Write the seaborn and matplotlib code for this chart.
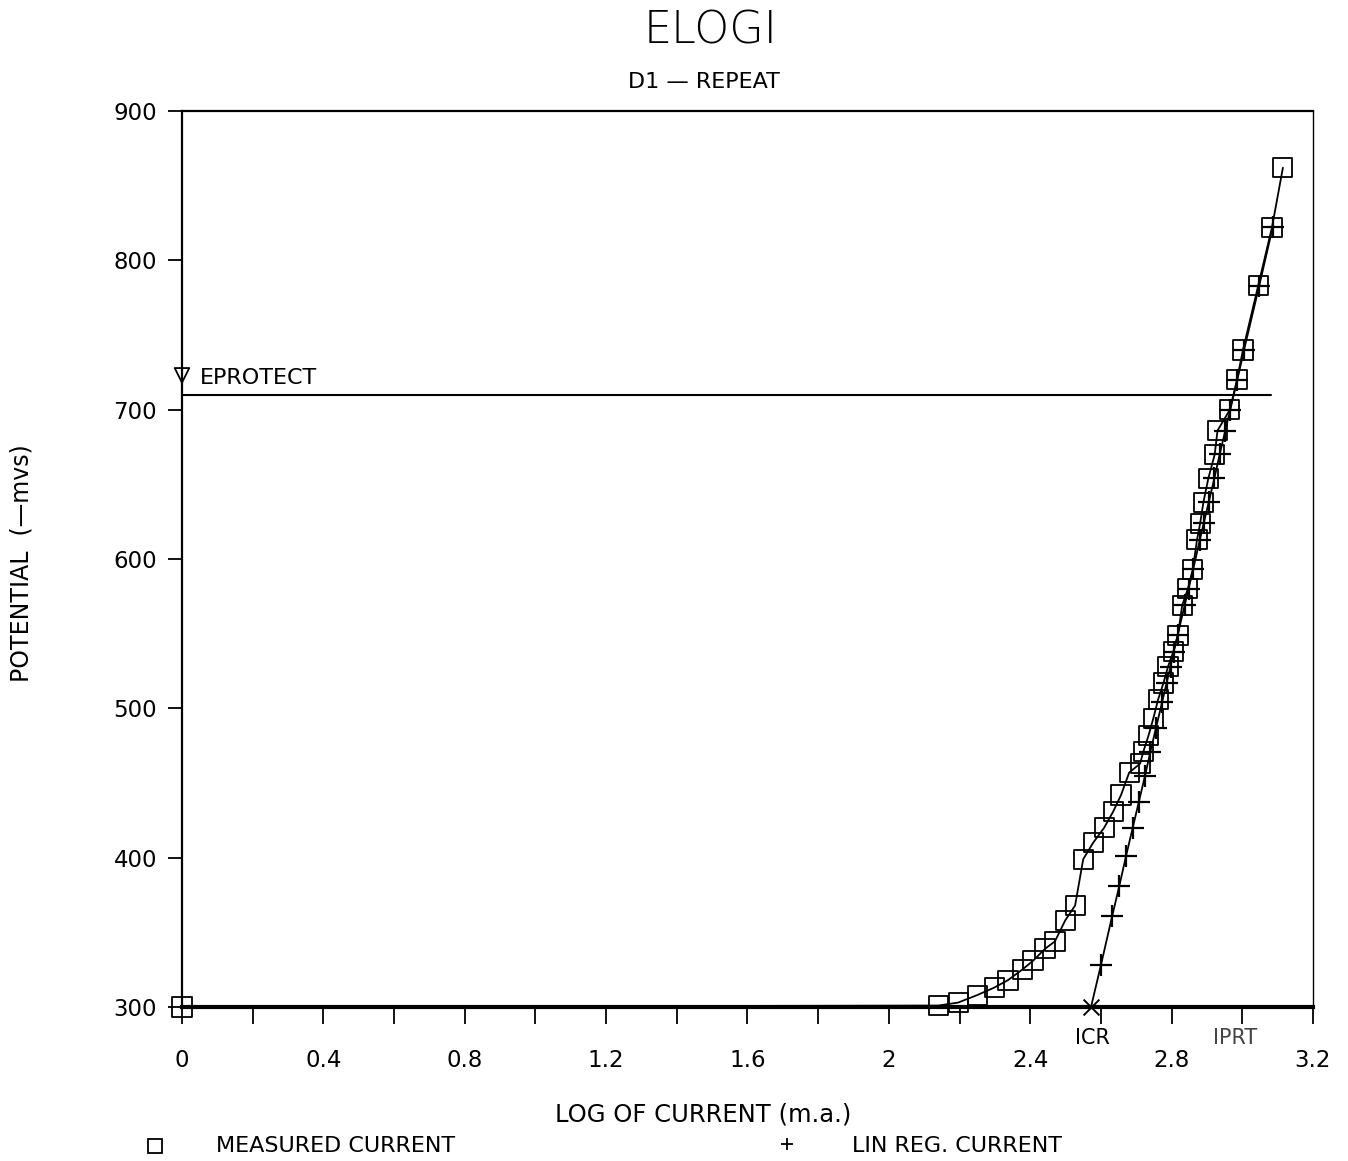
import matplotlib
matplotlib.use("Agg")
import matplotlib.pyplot as plt
import numpy as np
import seaborn as sns
from matplotlib.lines import Line2D

# measured current curve (log of current, potential in -mV)
meas_x = [0.0, 2.14, 2.196, 2.25, 2.298, 2.337, 2.377, 2.408, 2.442, 2.47,
          2.499, 2.527, 2.55, 2.578, 2.609, 2.635, 2.657, 2.68, 2.711, 2.72,
          2.735, 2.748, 2.762, 2.777, 2.79, 2.805, 2.818, 2.83, 2.846, 2.86,
          2.872, 2.881, 2.89, 2.904, 2.922, 2.93, 2.965, 2.985, 3.002, 3.045,
          3.084, 3.115]
meas_y = [300, 301, 303, 308, 313, 318, 325, 331, 339, 344,
          358, 368, 399, 410, 420, 431, 442, 457, 463, 471,
          482, 493, 506, 517, 528, 538, 549, 569, 580, 593,
          613, 624, 638, 654, 670, 686, 700, 720, 740, 783,
          822, 862]

# linear regression current
lin_x = [2.572, 2.600, 2.632, 2.652, 2.671, 2.690, 2.707, 2.725, 2.740, 2.756,
         2.773, 2.786, 2.797, 2.806, 2.817, 2.837, 2.848, 2.861, 2.880, 2.891,
         2.905, 2.921, 2.936, 2.952, 2.966, 2.986, 3.005, 3.048, 3.086]
lin_y = [300, 328, 361, 381, 401, 420, 437, 455, 471, 487,
         504, 517, 528, 538, 549, 569, 580, 593, 613, 624,
         638, 654, 670, 686, 700, 720, 740, 783, 822]

eprotect = 710
eprotect_end = 3.08
eprotect_mark = 723
icr_x = 2.575
iprt_x = 2.98

x_labels = ["0", "0.4", "0.8", "1.2", "1.6", "2", "2.4", "2.8", "3.2"]
y_major = [300, 400, 500, 600, 700, 800, 900]

sns.set_style("white")
plt.rcParams['font.family'] = ['DejaVu Sans']
plt.rcParams['text.color'] = 'black'
plt.rcParams['xtick.color'] = 'black'
plt.rcParams['ytick.color'] = 'black'

fig = plt.figure(figsize=(13.48, 11.61), dpi=100)
ax = fig.add_axes([0.135, 0.1326, 0.839, 0.7718])

# lines
sns.lineplot(x=meas_x, y=meas_y, sort=False, estimator=None, ax=ax,
             color='black', linewidth=1.3, zorder=3)
sns.lineplot(x=lin_x, y=lin_y, sort=False, estimator=None, ax=ax,
             color='black', linewidth=1.3, zorder=3)

# markers
sns.scatterplot(x=meas_x, y=meas_y, ax=ax, marker='s', s=190,
                facecolors='none', edgecolor='black', linewidth=1.3,
                clip_on=False, zorder=4)
sns.scatterplot(x=lin_x[1:], y=lin_y[1:], ax=ax, marker='+', s=230,
                color='black', linewidth=1.6, clip_on=False, zorder=4)
sns.scatterplot(x=lin_x[:1], y=lin_y[:1], ax=ax, marker='x', s=130,
                color='black', linewidth=1.4, clip_on=False, zorder=4)

# EPROTECT line
sns.lineplot(x=[0, eprotect_end], y=[eprotect, eprotect], ax=ax,
             color='black', linewidth=1.5, zorder=2)
sns.scatterplot(x=[0], y=[eprotect_mark], ax=ax, marker='v', s=110,
                facecolors='none', edgecolor='black', linewidth=1.3,
                clip_on=False, zorder=4)
ax.text(0.05, eprotect_mark - 2, "EPROTECT", fontsize=16, va='center',
        ha='left')

ax.set_xlim(0, 3.2)
ax.set_ylim(300, 900)
ax.set_xticks(np.arange(0, 3.21, 0.2))
ax.set_xticklabels([x_labels[i // 2] if i % 2 == 0 else "" for i in range(17)])
ax.set_yticks(y_major)
ax.tick_params(axis='x', direction='out', length=12, width=1.3, pad=18,
               labelsize=16.5, bottom=True)
ax.tick_params(axis='y', direction='out', length=10, width=1.3, pad=8,
               labelsize=16.5, left=True)

for side in ['left', 'top', 'right']:
    ax.spines[side].set_linewidth(1.6)
    ax.spines[side].set_color('black')
ax.spines['right'].set_linewidth(1.0)
ax.spines['bottom'].set_linewidth(3.0)
ax.spines['bottom'].set_color('black')

# ICR / IPRT labels under the axis
ax.text(icr_x, 286, "ICR", ha='center', va='top', fontsize=15, clip_on=False)
ax.text(iprt_x, 286, "IPRT", ha='center', va='top', fontsize=15,
        color='#444444', clip_on=False)

fig.text(0.527, 0.973, "ELOGI", ha='center', va='center', fontsize=32,
         fontweight='light')
fig.text(0.522, 0.929, "D1 \u2014 REPEAT", ha='center', va='center', fontsize=16)
fig.text(0.522, 0.04, "LOG OF CURRENT (m.a.)", ha='center', va='center',
         fontsize=17.5)
fig.text(0.016, 0.515, "POTENTIAL  (\u2014mvs)", ha='center', va='center',
         rotation=90, fontsize=17)

# legend row
fig.add_artist(Line2D([0.115], [0.013], marker='s', markersize=10,
                      markerfacecolor='none', markeredgecolor='black',
                      markeredgewidth=1.3, transform=fig.transFigure))
fig.text(0.160, 0.013, "MEASURED CURRENT", ha='left', va='center', fontsize=16)
fig.add_artist(Line2D([0.584], [0.015], marker='+', markersize=8,
                      markeredgecolor='black', markeredgewidth=1.3,
                      transform=fig.transFigure))
fig.text(0.632, 0.013, "LIN REG. CURRENT", ha='left', va='center', fontsize=16)

fig.savefig("out.png", dpi=100)
